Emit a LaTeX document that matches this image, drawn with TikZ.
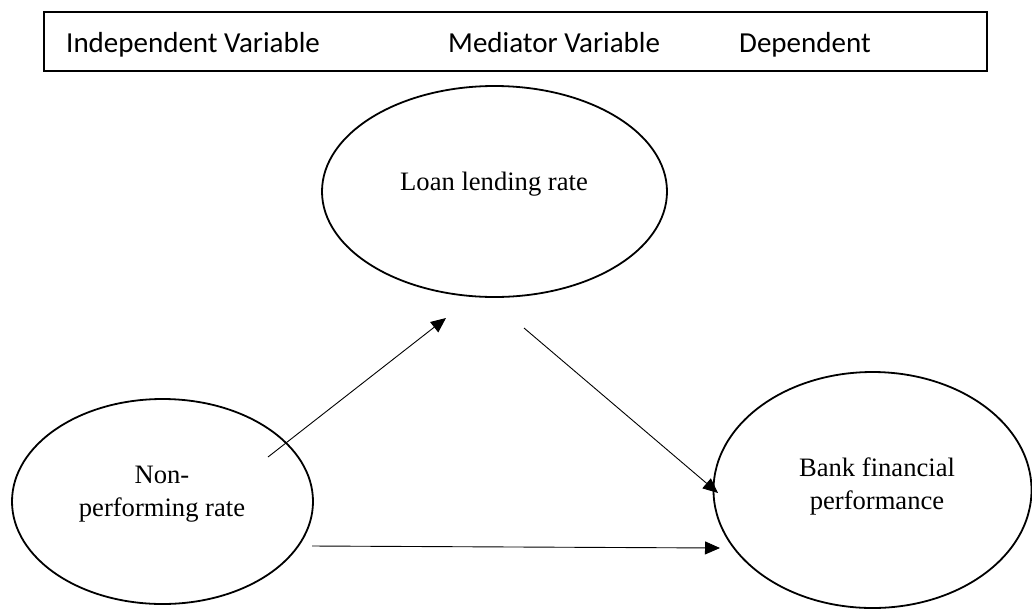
\documentclass[tikz,border=0pt]{standalone}
\usepackage{fontspec}
\setmainfont{Liberation Serif}
\newfontfamily\calibri{Carlito}
\usetikzlibrary{shapes.geometric,arrows.meta}
\begin{document}
\begin{tikzpicture}[x=1pt,y=-1pt,
  hdrbox/.style={draw, line width=1.8pt, rectangle, minimum width=943pt, minimum height=59pt, inner sep=0pt},
  hdrtext/.style={font=\calibri\fontsize{29}{35}\selectfont, anchor=base west, inner sep=0pt},
  varell/.style={draw, line width=1.8pt, ellipse, inner sep=0pt},
  vartext/.style={font=\fontsize{26.6}{33}\selectfont, align=center, inner sep=0pt, anchor=base},
  link/.style={line width=0.9pt, -{Triangle[length=15pt,width=13pt]}}
]
\useasboundingbox (0,0) rectangle (1032,611);
\fill[white] (0,0) rectangle (1032,611);

% header box
\node[hdrbox] (hdr) at (515.5,41.5) {};
\node[hdrtext] (tind) at (66,52) {Independent Variable};
\node[hdrtext] (tmed) at (448,52) {Mediator Variable};
\node[hdrtext] (tdep) at (739,52) {Dependent};

% ellipses
\node[varell, minimum width=345pt, minimum height=211pt] (med) at (494.5,191.5) {};
\node[varell, minimum width=301pt, minimum height=205pt] (ind) at (162.5,501.5) {};
\node[varell, minimum width=318pt, minimum height=236pt] (dep) at (872.5,490) {};

% texts
\node[vartext] (lmed) at (494,190) {Loan lending rate};
\node[vartext] (lind1) at (162,483) {Non-};
\node[vartext] (lind2) at (162,516) {performing rate};
\node[vartext] (ldep1) at (877,476) {Bank financial};
\node[vartext] (ldep2) at (877,509) {performance};

% connector ends
\coordinate (a1s) at (268,457);
\coordinate (a1e) at (446,318);
\coordinate (a2s) at (524,328);
\coordinate (a2e) at (718,493);
\coordinate (a3s) at (312,546);
\coordinate (a3e) at (720,548);

\draw[link] (a1s) -- (a1e);
\draw[link] (a2s) -- (a2e);
\draw[link] (a3s) -- (a3e);
\end{tikzpicture}
\end{document}
